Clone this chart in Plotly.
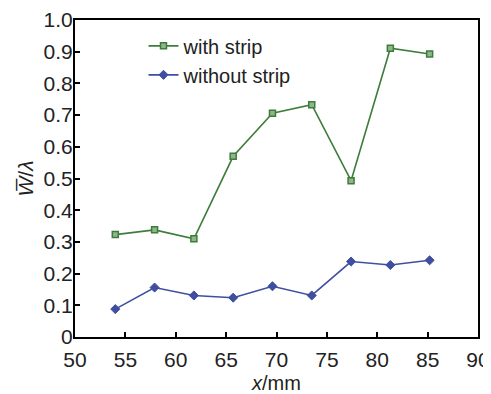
import plotly.graph_objects as go

x_mm = [54.0, 57.9, 61.8, 65.7, 69.6, 73.5, 77.4, 81.3, 85.2]
with_strip = [0.323, 0.338, 0.310, 0.570, 0.706, 0.733, 0.493, 0.911, 0.893]
without_strip = [0.088, 0.156, 0.131, 0.124, 0.160, 0.131, 0.238, 0.227, 0.242]
x_ticks = [50, 55, 60, 65, 70, 75, 80, 85, 90]
y_ticks = [0, 0.1, 0.2, 0.3, 0.4, 0.5, 0.6, 0.7, 0.8, 0.9, 1.0]
y_tick_text = ["0", "0.1", "0.2", "0.3", "0.4", "0.5", "0.6", "0.7", "0.8", "0.9", "1.0"]

green = "#3d7d3a"
blue = "#3f4ea0"
FONT = "Liberation Sans, Arial"

fig = go.Figure()
fig.add_trace(go.Scatter(
    x=x_mm, y=with_strip, mode="lines+markers", name="with strip",
    line=dict(color=green, width=1.6),
    marker=dict(symbol="square", size=6, color="#8fb58a", line=dict(color=green, width=1.5)),
))
fig.add_trace(go.Scatter(
    x=x_mm, y=without_strip, mode="lines+markers", name="without strip",
    line=dict(color=blue, width=1.6),
    marker=dict(symbol="diamond", size=7, color=blue, line=dict(color=blue, width=1)),
))

axis_common = dict(
    showline=True, linecolor="black", linewidth=2, mirror=True,
    ticks="inside", ticklen=5, tickwidth=1.5, tickcolor="black",
    showgrid=False, zeroline=False, automargin=False,
    tickfont=dict(family=FONT, size=21, color="#222"),
)
fig.update_xaxes(range=[50, 90], tickvals=x_ticks, **axis_common, ticklabelstandoff=3,
                 title=dict(text="<i>x</i>/mm", font=dict(family=FONT, size=20, color="#222"), standoff=6))
fig.update_yaxes(range=[0, 1.0], tickvals=y_ticks, ticktext=y_tick_text, **axis_common, ticklabelstandoff=-4,
                 title=dict(text="<i>W\u0305</i>/<i>λ</i>", font=dict(family=FONT, size=21, color="#222"), standoff=4))

# page body has an 8px default margin, so the figure is drawn 8px smaller
fig.update_layout(
    width=483, height=386,
    margin=dict(l=67, r=13, t=12, b=57),
    plot_bgcolor="white", paper_bgcolor="white",
    showlegend=True,
    legend=dict(x=0.17, y=0.98, xanchor="left", yanchor="top",
                bgcolor="rgba(0,0,0,0)", font=dict(family=FONT, size=20, color="#222"),
                itemwidth=30, tracegroupgap=0),
)

fig.write_html("out.html")
